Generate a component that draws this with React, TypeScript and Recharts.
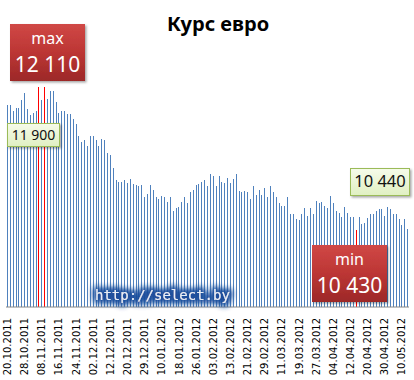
import { Bar, BarChart, Cell, XAxis, YAxis } from "recharts";

const tickLabels = [
  "20.10.2011", "28.10.2011", "08.11.2011", "16.11.2011", "24.11.2011", "02.12.2011",
  "12.12.2011", "20.12.2011", "29.12.2011", "10.01.2012", "18.01.2012", "26.01.2012",
  "03.02.2012", "13.02.2012", "21.02.2012", "29.02.2012", "11.03.2012", "19.03.2012",
  "27.03.2012", "04.04.2012", "12.04.2012", "20.04.2012", "30.04.2012", "10.05.2012",
];

// daily EUR rate, BYR
const rates = [
  11900, 11900, 11830, 11860, 11860, 11960, 12040, 11850, 11780, 11800,
  11820, 12110, 11960, 12110, 11970, 12060, 12060, 11930, 11800, 11820,
  11820, 11790, 11790, 11730, 11670, 11530, 11460, 11480, 11410, 11530,
  11530, 11490, 11420, 11500, 11480, 11330, 11310, 11150, 11010, 10990,
  10990, 11010, 10980, 11030, 10970, 10960, 10940, 10950, 10810, 10850,
  10950, 10900, 10810, 10790, 10830, 10810, 10760, 10810, 10650, 10680,
  10700, 10750, 10810, 10740, 10870, 10900, 10950, 10970, 10990, 11010,
  10940, 11080, 11060, 10940, 11060, 10990, 10980, 11040, 10980, 11030,
  11080, 10890, 10870, 10880, 10870, 10790, 10940, 10840, 10900, 10840,
  10920, 10810, 10940, 10870, 10810, 10740, 10710, 10710, 10810, 10610,
  10610, 10560, 10540, 10610, 10680, 10590, 10680, 10610, 10770, 10740,
  10750, 10710, 10690, 10830, 10740, 10650, 10630, 10580, 10700, 10630,
  10580, 10580, 10430, 10580, 10500, 10510, 10570, 10620, 10620, 10650,
  10670, 10670, 10590, 10700, 10670, 10610, 10610, 10560, 10490, 10560,
  10440,
];

const data = rates.map((rate, i) => ({ day: i, rate }));
const maxRate = Math.max(...rates);
const minRate = Math.min(...rates);
const fmt = (v: number) => String(v).replace(/\B(?=(\d{3})+(?!\d))/g, " ");

const DateTick = ({ x, y, payload }: any) => (
  <text
    transform={`translate(${x},${y + 3}) rotate(-90)`}
    textAnchor="end"
    dy="0.36em"
    fontFamily="DejaVu Sans"
    fontSize={10}
    fill="#000"
  >
    {tickLabels[payload.value / 6]}
  </text>
);

const ThinBar = (p: any) => (
  <rect
    x={Math.round(p.x)}
    y={Math.round(p.y)}
    width={1}
    height={Math.round(p.y + p.height) - Math.round(p.y)}
    fill={p.fill}
  />
);

function RedBox({ x, y, top, value }: { x: number; y: number; top: string; value: number }) {
  return (
    <g>
      <rect x={x} y={y} width={75} height={57} fill="url(#redGrad)" filter="url(#shadow)" />
      <text x={x + 37.5} y={y + 20} textAnchor="middle" fill="#fff" fontFamily="Noto Sans" fontSize={16}>
        {top}
      </text>
      <text x={x + 37.5} y={y + 48} textAnchor="middle" fill="#fff" fontFamily="Noto Sans" fontSize={21}>
        {fmt(value)}
      </text>
    </g>
  );
}

function GreenBox({ x, y, w, h, size, value }: { x: number; y: number; w: number; h: number; size: number; value: number }) {
  return (
    <g>
      <rect x={x + 0.5} y={y + 0.5} width={w} height={h} fill="url(#greenGrad)" stroke="#9BBB59" filter="url(#shadow)" />
      <text x={x + w / 2 + 0.5} y={y + h / 2 + size * 0.36} textAnchor="middle" fill="#111" fontFamily="Noto Sans" fontSize={size}>
        {fmt(value)}
      </text>
    </g>
  );
}

export default function App() {
  return (
    <div style={{ position: "absolute", left: 0, top: 0, width: 414, height: 380, background: "#fff" }}>
      <BarChart width={414} height={380} data={data} margin={{ top: 52, right: 5, bottom: 0, left: 6 }}>
        <XAxis
          dataKey="day"
          interval={5}
          height={73}
          tickLine={false}
          axisLine={{ stroke: "#868686" }}
          tick={<DateTick />}
        />
        <YAxis hide domain={[9520, 12520]} />
        <Bar dataKey="rate" barSize={1} shape={ThinBar} isAnimationActive={false}>
          {data.map((d, i) => (
            <Cell key={i} fill={d.rate === maxRate || d.rate === minRate ? "#FF0000" : "#4F81BD"} />
          ))}
        </Bar>
      </BarChart>
      <svg width={414} height={380} style={{ position: "absolute", left: 0, top: 0, pointerEvents: "none" }}>
        <defs>
          <linearGradient id="redGrad" x1="0" y1="0" x2="0" y2="1">
            <stop offset="0" stopColor="#D04846" />
            <stop offset="0.5" stopColor="#BC3634" />
            <stop offset="1" stopColor="#9C2828" />
          </linearGradient>
          <linearGradient id="greenGrad" x1="0" y1="0" x2="0" y2="1">
            <stop offset="0" stopColor="#F6FBEA" />
            <stop offset="1" stopColor="#E0F0C2" />
          </linearGradient>
          <filter id="shadow" x="-10%" y="-10%" width="130%" height="130%">
            <feDropShadow dx="1.5" dy="1.5" stdDeviation="1.2" floodColor="#000" floodOpacity="0.35" />
          </filter>
          <filter id="glow" x="-10%" y="-60%" width="120%" height="220%">
            <feMorphology in="SourceAlpha" operator="dilate" radius="2" result="d" />
            <feGaussianBlur in="d" stdDeviation="3" result="b" />
            <feFlood floodColor="#1E4E9C" />
            <feComposite in2="b" operator="in" result="g" />
            <feMerge>
              <feMergeNode in="g" />
              <feMergeNode in="g" />
              <feMergeNode in="SourceGraphic" />
            </feMerge>
          </filter>
        </defs>
        <text x={218} y={31} textAnchor="middle" fontFamily="Noto Sans" fontWeight="bold" fontSize={20} fill="#000">
          Курс евро
        </text>
        <RedBox x={10} y={24} top="max" value={maxRate} />
        <RedBox x={312} y={245} top="min" value={minRate} />
        <GreenBox x={7} y={123} w={52} h={23} size={14} value={rates[0]} />
        <GreenBox x={350} y={168} w={59} h={27} size={16.5} value={rates[rates.length - 1]} />
        <text x={95} y={300} fontFamily="DejaVu Sans Mono" fontSize={14} fill="#E6EEF8" filter="url(#glow)">
          http://select.by
        </text>
      </svg>
    </div>
  );
}
